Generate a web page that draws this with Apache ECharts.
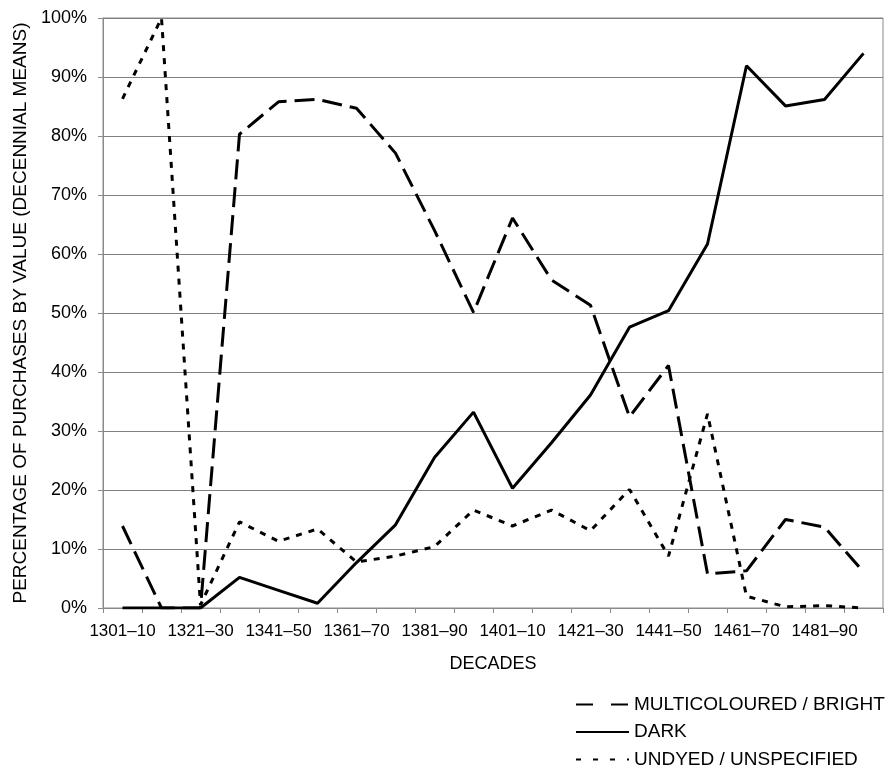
<!DOCTYPE html>
<html>
<head>
<meta charset="utf-8">
<script src="https://cdn.jsdelivr.net/npm/echarts@6/dist/echarts.min.js"></script>
<style>
html,body{margin:0;padding:0;background:#fff;}
#chart{width:891px;height:767px;}
</style>
</head>
<body>
<div id="chart"></div>
<script>
const categories = ['1301–10','1311–20','1321–30','1331–40','1341–50','1351–60','1361–70','1371–80','1381–90','1391–1400',
                    '1401–10','1411–20','1421–30','1431–40','1441–50','1451–60','1461–70','1471–80','1481–90','1491–1500'];
const multicoloured = [13.9, 0, 0, 80.3, 85.8, 86.2, 84.7, 77.1, 64.0, 50.1, 66.1, 55.6, 51.3, 32.4, 41.1, 5.8, 6.3, 15.0, 13.7, 6.1];
const dark = [0, 0, 0, 5.2, 3.0, 0.8, 7.7, 14.1, 25.5, 33.2, 20.3, 28.0, 36.1, 47.6, 50.4, 61.7, 91.9, 85.1, 86.2, 94.0];
const undyed = [86.3, 100, 0.5, 14.6, 11.3, 13.4, 7.8, 8.8, 10.4, 16.6, 13.9, 16.6, 13.1, 20.1, 8.8, 32.9, 2.0, 0.2, 0.4, 0.0];
const seriesNames = ['MULTICOLOURED / BRIGHT', 'DARK', 'UNDYED / UNSPECIFIED'];

const FONT = 'Liberation Sans, Arial, sans-serif';
const chart = echarts.init(document.getElementById('chart'));
chart.setOption({
  animation: false,
  backgroundColor: '#fff',
  textStyle: { fontFamily: FONT, color: '#000' },
  grid: { left: 103, right: 8, top: 18, bottom: 159, show: true, borderColor: '#8a8a8a', borderWidth: 1,
          containLabel: false, outerBoundsMode: 'none' },
  legend: {
    orient: 'vertical', left: 570, top: 695, height: 100, padding: [0, 5, 0, 5],
    itemWidth: 53, itemHeight: 14, itemGap: 8.5,
    itemStyle: { opacity: 0 },
    textStyle: { fontFamily: FONT, fontSize: 19, color: '#000', padding: [0,0,0,0] },
    data: [
      { name: seriesNames[0], lineStyle: { type: [17, 18] } },
      { name: seriesNames[1] },
      { name: seriesNames[2], lineStyle: { type: [5, 12] } }
    ]
  },
  xAxis: {
    type: 'category', data: categories, boundaryGap: true,
    name: 'DECADES', nameLocation: 'middle', nameGap: 47,
    nameTextStyle: { fontFamily: FONT, fontSize: 18, color: '#000' },
    axisLine: { lineStyle: { color: '#8a8a8a', width: 1 } },
    axisTick: { show: true, interval: 0, length: 5, lineStyle: { color: '#8a8a8a' } },
    axisLabel: { interval: 1, fontFamily: FONT, fontSize: 17, color: '#000', margin: 15 },
    splitLine: { show: false }
  },
  yAxis: {
    type: 'value', min: 0, max: 100, interval: 10,
    name: 'PERCENTAGE OF PURCHASES BY VALUE (DECENNIAL MEANS)', nameLocation: 'middle', nameGap: 73,
    nameTextStyle: { fontFamily: FONT, fontSize: 19, color: '#000' },
    axisLine: { show: true, lineStyle: { color: '#8a8a8a', width: 1 } },
    axisTick: { show: true, length: 5, lineStyle: { color: '#8a8a8a' } },
    axisLabel: { formatter: '{value}%', fontFamily: FONT, fontSize: 18, color: '#000', margin: 16 },
    splitLine: { show: true, lineStyle: { color: '#808080', width: 1 } }
  },
  series: [
    { name: seriesNames[0], type: 'line', data: multicoloured, symbol: 'none',
      lineStyle: { color: '#000', width: 3, type: [20, 8] }, itemStyle: { color: '#000' } },
    { name: seriesNames[1], type: 'line', data: dark, symbol: 'none',
      lineStyle: { color: '#000', width: 3, type: 'solid' }, itemStyle: { color: '#000' } },
    { name: seriesNames[2], type: 'line', data: undyed, symbol: 'none',
      lineStyle: { color: '#000', width: 3, type: [6, 7] }, itemStyle: { color: '#000' } }
  ]
});
</script>
</body>
</html>
